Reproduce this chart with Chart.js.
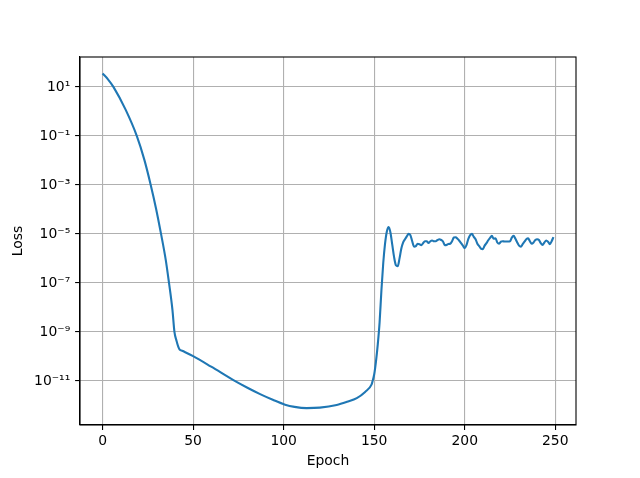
<!DOCTYPE html>
<html>
<head>
<meta charset="utf-8">
<script src="https://cdn.jsdelivr.net/npm/chart.js@4"></script>
<style>
  html, body { margin: 0; padding: 0; background: #fff; }
  #wrap { width: 640px; height: 478px; }
</style>
</head>
<body>
<div id="wrap"><canvas id="c" width="640" height="478"></canvas></div>
<script>
const epochs = [
  0, 3, 6, 12.8, 18.9, 23.1, 26.6, 29.5, 32.3, 34.9, 36.7, 38.6, 39.7, 40.8, 41.8, 42.6, 44,
  50, 60, 73, 80, 87, 94, 100.8, 106, 112.7, 120, 129.3, 135, 140.4, 145, 148.6, 149,
  150, 151, 152, 153, 154, 155, 156, 157, 158, 159, 160, 161, 162, 163, 164, 165, 166,
  167, 168, 169, 170, 171, 172, 173, 174, 175, 176, 177, 178, 179, 180, 181, 182, 183,
  184, 185, 186, 187, 188, 189, 190, 191, 192, 193, 194, 195, 196, 197, 198, 199, 200,
  201, 202, 203, 204, 205, 206, 207, 208, 209, 210, 211, 212, 213, 214, 215, 216, 217,
  218, 219, 220, 221, 222, 223, 224, 225, 226, 227, 228, 229, 230, 231, 232, 233, 234,
  235, 236, 237, 238, 239, 240, 241, 242, 243, 244, 245, 246, 247, 248, 249
];
// log10(loss) read at those epochs
const lossExp = [
  1.55, 1.31, 1.0, 0.06, -1.0, -1.98, -3.0, -3.95, -5.0, -6.06, -7.0, -8.1, -9.0, -9.35, -9.6, -9.72, -9.77,
  -9.99, -10.42, -11.0, -11.28, -11.54, -11.77, -11.97, -12.06, -12.11, -12.09, -11.98, -11.85, -11.7, -11.45, -11.14, -11.04,
  -10.74, -10.2, -9.5, -8.6, -7.3, -6.2, -5.4, -4.9, -4.72, -4.95, -5.45, -5.95, -6.28, -6.32, -6.0, -5.6, -5.35,
  -5.22, -5.1, -5.0, -5.05, -5.3, -5.52, -5.5, -5.4, -5.42, -5.46, -5.38, -5.3, -5.3, -5.37, -5.3, -5.27, -5.3,
  -5.3, -5.25, -5.22, -5.25, -5.31, -5.46, -5.45, -5.41, -5.4, -5.3, -5.15, -5.14, -5.2, -5.28, -5.38, -5.48, -5.58,
  -5.45, -5.2, -5.05, -5.0, -5.12, -5.22, -5.4, -5.5, -5.6, -5.62, -5.48, -5.38, -5.26, -5.16, -5.08, -5.2, -5.18,
  -5.35, -5.4, -5.32, -5.3, -5.31, -5.31, -5.31, -5.3, -5.15, -5.08, -5.2, -5.35, -5.48, -5.52, -5.42, -5.32, -5.22,
  -5.18, -5.3, -5.4, -5.35, -5.25, -5.22, -5.25, -5.38, -5.45, -5.35, -5.27, -5.32, -5.42, -5.3, -5.13
];
const xTicks = [0, 50, 100, 150, 200, 250];
const yTickExps = [-11, -9, -7, -5, -3, -1, 1];

const sup = {'-':'\u207B','0':'\u2070','1':'\u00B9','2':'\u00B2','3':'\u00B3','4':'\u2074','5':'\u2075','6':'\u2076','7':'\u2077','8':'\u2078','9':'\u2079'};
function powLabel(e) { return '10' + String(e).split('').map(ch => sup[ch]).join(''); }

const points = epochs.map((x, i) => ({ x: x, y: Math.pow(10, lossExp[i]) }));

const frame = {
  id: 'frame',
  afterDraw(chart) {
    const a = chart.chartArea, ctx = chart.ctx;
    ctx.save();
    ctx.strokeStyle = '#000';
    ctx.lineWidth = 1.1;
    ctx.strokeRect(a.left, a.top, a.right - a.left, a.bottom - a.top);
    ctx.restore();
  }
};

const font = { family: 'DejaVu Sans', size: 13.9 };

new Chart(document.getElementById('c'), {
  type: 'line',
  data: {
    datasets: [{
      data: points,
      borderColor: '#1f77b4',
      borderWidth: 2.1,
      pointRadius: 0,
      fill: false,
      cubicInterpolationMode: 'monotone'
    }]
  },
  options: {
    responsive: false,
    animation: false,
    devicePixelRatio: 1,
    layout: { padding: { left: 0, right: 64, top: 57, bottom: 0 } },
    plugins: { legend: { display: false }, tooltip: { enabled: false } },
    scales: {
      x: {
        type: 'linear',
        bounds: 'data',
        min: -12.45,
        max: 261.45,
        afterBuildTicks(s) { s.ticks = xTicks.map(v => ({ value: v })); },
        afterFit(s) { s.height = 53; },
        grid: { color: '#b0b0b0', lineWidth: 1.1, tickColor: '#000', tickLength: 4.9, drawTicks: true },
        border: { color: '#000', width: 1.1 },
        ticks: { color: '#000', font: font, padding: 3.5, maxRotation: 0, autoSkip: false },
        title: { display: true, text: 'Epoch', color: '#000', font: font, padding: { top: 0, bottom: 8.6 } }
      },
      y: {
        type: 'logarithmic',
        bounds: 'data',
        min: Math.pow(10, -12.8),
        max: Math.pow(10, 2.22),
        afterBuildTicks(s) { s.ticks = yTickExps.map(e => ({ value: Math.pow(10, e) })); },
        afterFit(s) { s.width = 80; },
        grid: { color: '#b0b0b0', lineWidth: 1.1, tickColor: '#000', tickLength: 4.9, drawTicks: true },
        border: { color: '#000', width: 1.1 },
        ticks: {
          color: '#000', font: font, padding: 4.9, autoSkip: false,
          callback(v) { return powLabel(Math.round(Math.log10(v))); }
        },
        title: { display: true, text: 'Loss', color: '#000', font: font, padding: { top: 9.6, bottom: 0 } }
      }
    }
  },
  plugins: [frame]
});
</script>
</body>
</html>
